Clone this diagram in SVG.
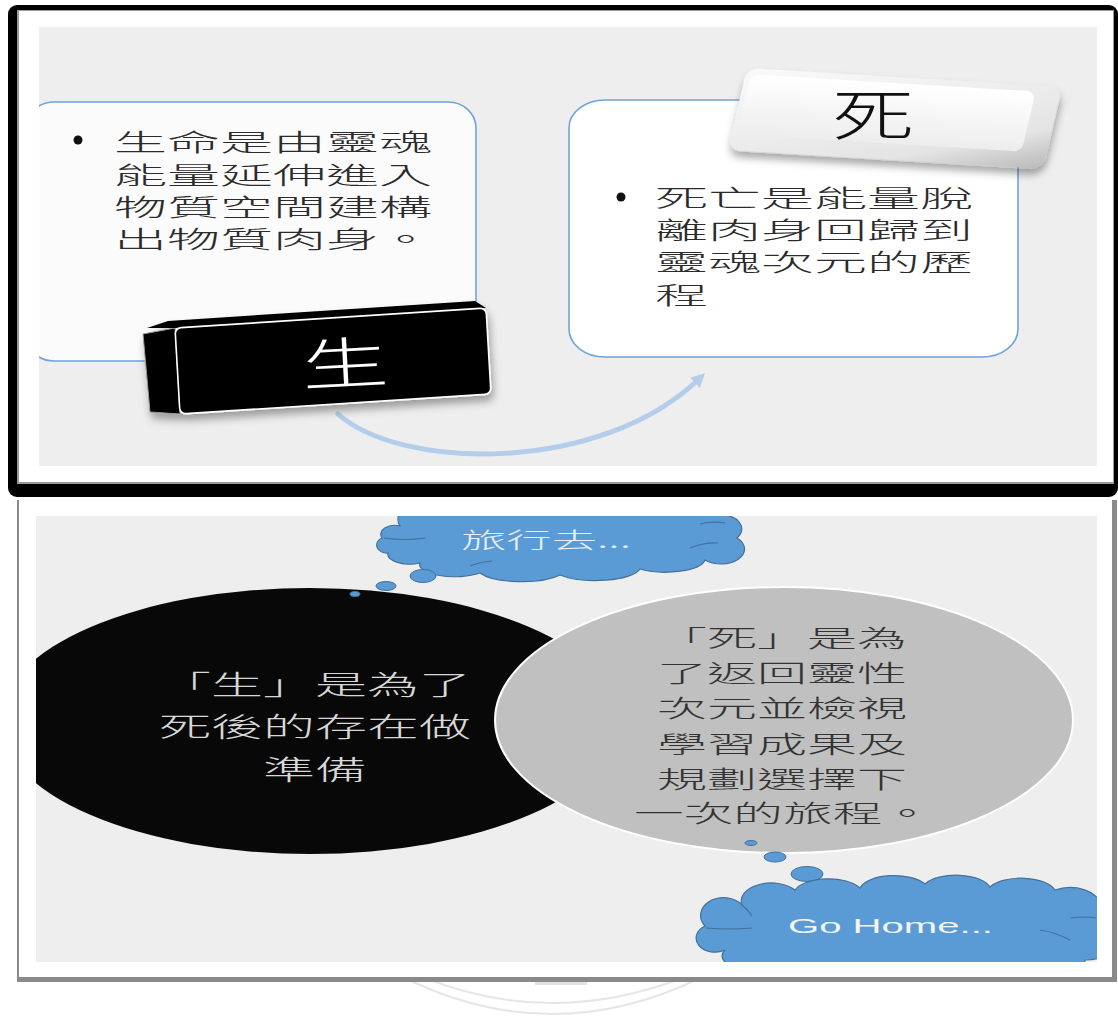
<svg xmlns="http://www.w3.org/2000/svg" width="1118" height="1016" viewBox="0 0 1118 1016">
  <defs>
    <style>
      .cjk{font-family:"Noto Sans CJK TC","Noto Sans CJK SC","Noto Sans CJK JP",sans-serif;font-weight:300;}
      .body{font-size:24px;fill:#2b2b2b;}
      .onblack{font-size:27px;fill:#d8d8d8;}
      .ongrey{font-size:24px;fill:#333333;}
      .cloudtxt{fill:#e6eef8;}
      .panel{fill:#eeeeee;}
      .box{stroke:#6fa3dc;stroke-width:1.6;}
      .cloud{fill:#5b9bd5;stroke:#41719c;stroke-width:1.2;}
      .cloudline{fill:none;stroke:#41719c;stroke-width:1.2;}
      .bubble{fill:#5b9bd5;stroke:#41719c;stroke-width:1;}
    </style>
    <clipPath id="clipTop"><rect x="39" y="27" width="1058" height="439"/></clipPath>
    <clipPath id="clipBottom"><rect x="36" y="516" width="1061" height="446"/></clipPath>
    <filter id="keyShadow" x="-20%" y="-30%" width="140%" height="180%">
      <feDropShadow dx="2" dy="6" stdDeviation="4" flood-color="#000" flood-opacity="0.35"/>
    </filter>
    <linearGradient id="keyBody" x1="0" y1="0" x2="1" y2="1">
      <stop offset="0" stop-color="#fafafa"/>
      <stop offset="0.75" stop-color="#e4e4e4"/>
      <stop offset="1" stop-color="#b9b9b9"/>
    </linearGradient>
    <linearGradient id="keyFace" x1="0" y1="0" x2="0" y2="1">
      <stop offset="0" stop-color="#ffffff"/>
      <stop offset="1" stop-color="#ededed"/>
    </linearGradient>
    <marker id="arrow" markerUnits="userSpaceOnUse" markerWidth="14" markerHeight="14" refX="6" refY="6" orient="auto" viewBox="0 0 12 12">
      <path d="M0,0 L12,6 L0,12 z" fill="#b3cdea"/>
    </marker>
  </defs>

  <rect width="1118" height="1016" fill="#ffffff"/>

  <!-- faint seal watermark below the lower panel -->
  <g id="watermark" fill="none" stroke="#e6e6e6" stroke-width="2">
    <path d="M 405 978 Q 552 1050 700 978"/>
    <path d="M 425 978 Q 552 1028 682 978"/>
    <path d="M 535 983 L 587 983" stroke-width="4" stroke="#e2e2e2"/>
  </g>

  <!-- upper panel frame -->
  <g id="upper-frame">
    <rect x="8" y="5" width="1110" height="492" rx="9" fill="#000000"/>
    <rect x="17" y="10" width="1097" height="474" fill="#9a9a9a"/>
    <rect x="19" y="11" width="1094" height="471" fill="#ffffff"/>
    <rect class="panel" x="39" y="27" width="1058" height="439"/>
  </g>

  <g clip-path="url(#clipTop)">
    <g id="life-box">
      <rect class="box" x="26" y="102" width="450" height="259" rx="28" ry="26" fill="#fbfbfb"/>
      <circle cx="78" cy="140" r="4.5" fill="#111"/>
      <g class="cjk body">
        <text x="114" y="151" textLength="318" lengthAdjust="spacingAndGlyphs">生命是由靈魂</text>
        <text x="114" y="184" textLength="318" lengthAdjust="spacingAndGlyphs">能量延伸進入</text>
        <text x="114" y="216" textLength="318" lengthAdjust="spacingAndGlyphs">物質空間建構</text>
        <text x="114" y="248" textLength="318" lengthAdjust="spacingAndGlyphs">出物質肉身。</text>
      </g>
    </g>

    <g id="death-box">
      <rect class="box" x="569" y="100" width="449" height="257" rx="36" ry="28" fill="#ffffff"/>
      <circle cx="621" cy="197" r="4.5" fill="#111"/>
      <g class="cjk body">
        <text x="655" y="207" textLength="318" lengthAdjust="spacingAndGlyphs">死亡是能量脫</text>
        <text x="655" y="239" textLength="318" lengthAdjust="spacingAndGlyphs">離肉身回歸到</text>
        <text x="655" y="271" textLength="318" lengthAdjust="spacingAndGlyphs">靈魂次元的歷</text>
        <text x="655" y="304" textLength="53" lengthAdjust="spacingAndGlyphs">程</text>
      </g>
    </g>

    <g id="connectors">
      <path d="M 338 414 C 400 470, 600 475, 700 378" fill="none" stroke="#b3cdea" stroke-width="5" stroke-linecap="round" marker-end="url(#arrow)"/>
    </g>

    <!-- black keycap labelled 生 -->
    <g id="key-life">
      <g filter="url(#keyShadow)">
        <polygon points="143,334 175,328 180,414 150,412" fill="#000" stroke="#9a9a9a" stroke-width="1"/>
        <polygon points="147,328 168,321 475,301 486,308 175,328" fill="#000"/>
        <rect x="0" y="0" width="311" height="86" rx="6" fill="#000" stroke="#ffffff" stroke-width="1.6" transform="matrix(1,-0.0643,0.0581,1,175,328)"/>
      </g>
      <text class="cjk" font-size="56" fill="#ffffff" text-anchor="middle" transform="translate(346,384) rotate(-3) scale(1.55,1)">生</text>
    </g>

    <!-- white keycap labelled 死 -->
    <g id="key-death">
      <g transform="matrix(1,0.0603,-0.2317,1,747,68)">
        <rect x="0" y="0" width="315" height="82" rx="12" fill="url(#keyBody)" filter="url(#keyShadow)"/>
        <rect x="5" y="6" width="285" height="60" rx="8" fill="url(#keyFace)"/>
      </g>
      <text class="cjk" font-size="56" fill="#111111" text-anchor="middle" transform="translate(873,136) scale(1.45,1)">死</text>
    </g>
  </g>

  <!-- lower panel frame -->
  <g id="lower-frame">
    <rect x="17" y="500" width="1100" height="482" fill="#8a8a8a"/>
    <rect x="19" y="500" width="1093" height="477" fill="#ffffff"/>
    <rect class="panel" x="36" y="516" width="1061" height="446"/>
  </g>

  <g clip-path="url(#clipBottom)">
    <g id="life-circle">
      <ellipse cx="310" cy="721" rx="310" ry="133" fill="#080808"/>
      <g class="cjk onblack">
        <text x="159" y="695" textLength="312" lengthAdjust="spacingAndGlyphs">「生」是為了</text>
        <text x="159" y="737" textLength="312" lengthAdjust="spacingAndGlyphs">死後的存在做</text>
        <text x="263" y="780" textLength="104" lengthAdjust="spacingAndGlyphs">準備</text>
      </g>
    </g>

    <g id="death-circle">
      <ellipse cx="784" cy="720" rx="289" ry="133" fill="#c0c0c0" stroke="#ffffff" stroke-width="2"/>
      <g class="cjk ongrey">
        <text x="657" y="647" textLength="250" lengthAdjust="spacingAndGlyphs">「死」是為</text>
        <text x="657" y="682" textLength="250" lengthAdjust="spacingAndGlyphs">了返回靈性</text>
        <text x="657" y="717" textLength="250" lengthAdjust="spacingAndGlyphs">次元並檢視</text>
        <text x="657" y="753" textLength="250" lengthAdjust="spacingAndGlyphs">學習成果及</text>
        <text x="657" y="788" textLength="250" lengthAdjust="spacingAndGlyphs">規劃選擇下</text>
        <text x="634" y="822" textLength="298" lengthAdjust="spacingAndGlyphs">一次的旅程。</text>
      </g>
    </g>

    <g id="cloud-travel">
      <path class="cloud" d="M 382 538 A 14 9 0 0 1 400 526 A 22 16 0 0 1 430 505 A 60 25 0 0 1 540 498 A 60 25 0 0 1 660 500 A 40 20 0 0 1 720 515 A 20 14 0 0 1 737 538 A 22 14 0 0 1 705 560 A 40 14 0 0 1 640 569 A 45 14 0 0 1 560 575 A 45 14 0 0 1 480 573 A 35 12 0 0 1 420 563 A 22 10 0 0 1 388 553 A 10 8 0 0 1 382 538 Z"/>
      <path class="cloudline" d="M 384 538 Q 405 541 426 538 M 470 566 Q 480 562 492 561 M 690 548 Q 705 542 718 543 M 700 524 Q 712 521 725 523"/>
      <ellipse class="bubble" cx="423" cy="576" rx="13" ry="6.5"/>
      <ellipse class="bubble" cx="386" cy="586" rx="10" ry="4.5"/>
      <ellipse class="bubble" cx="355" cy="594" rx="5" ry="2.5"/>
      <text class="cjk cloudtxt" x="461" y="548" font-size="22" textLength="170" lengthAdjust="spacingAndGlyphs">旅行去...</text>
    </g>

    <g id="cloud-home">
      <ellipse class="bubble" cx="751" cy="843" rx="6" ry="2.5"/>
      <ellipse class="bubble" cx="775" cy="857" rx="11" ry="5"/>
      <ellipse class="bubble" cx="807" cy="874" rx="16" ry="7.5"/>
      <path class="cloud" d="M 705 926 A 18 14 0 0 1 742 905 A 30 18 0 0 1 795 890 A 35 16 0 0 1 860 888 A 35 16 0 0 1 925 884 A 35 16 0 0 1 990 887 A 35 16 0 0 1 1055 890 A 30 18 0 0 1 1100 905 A 25 18 0 0 1 1115 935 A 30 20 0 0 1 1085 960 A 40 16 0 0 1 1010 968 A 40 16 0 0 1 930 968 A 40 16 0 0 1 850 968 A 35 16 0 0 1 780 962 A 30 14 0 0 1 725 950 A 16 12 0 0 1 705 926 Z"/>
      <path class="cloudline" d="M 706 928 Q 730 930 752 928 M 742 905 Q 748 910 752 916 M 1040 930 Q 1055 932 1070 940 M 1070 918 Q 1085 916 1096 918"/>
      <text x="788" y="933" font-family="'Liberation Sans','DejaVu Sans',sans-serif" font-size="21" fill="#f2f6fb" textLength="205" lengthAdjust="spacingAndGlyphs">Go Home...</text>
    </g>
  </g>
</svg>
